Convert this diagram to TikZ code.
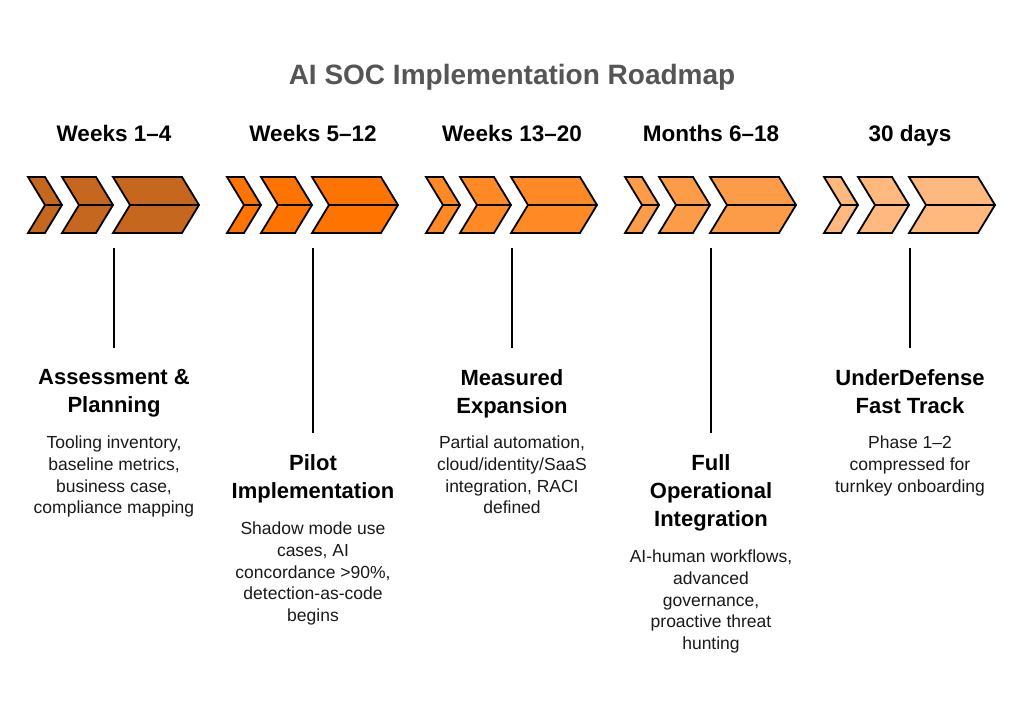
\documentclass[tikz,border=0pt]{standalone}
\usepackage{fontspec}
\setmainfont{Liberation Sans}
\definecolor{cA}{HTML}{C5671F}
\definecolor{cB}{HTML}{FF7300}
\definecolor{cC}{HTML}{FF8A25}
\definecolor{cD}{HTML}{FD9C48}
\definecolor{cE}{HTML}{FFB87D}
\definecolor{ttl}{HTML}{555555}
\tikzset{
  chev/.style={draw=black, line width=1.8pt, line join=miter},
  stem/.style={draw=black, line width=1.6pt},
  hdr/.style={anchor=base, inner sep=0pt, font=\fontsize{22.5}{26}\selectfont\bfseries},
  ttlbox/.style={anchor=north, inner sep=0pt, align=center, font=\fontsize{22}{28}\selectfont\bfseries},
  dsc/.style={anchor=north, inner sep=0pt, align=center, font=\fontsize{17.5}{21.6}\selectfont, text=black!90},
}
\newcommand{\chevgroup}[2]{%
  % #1 = x start, #2 = colour
  \begin{scope}[shift={(#1,0)}]
    \foreach \a/\b in {0/17, 34/34, 85/69} {
      \pgfmathsetmacro{\c}{\a+\b}
      \pgfmathsetmacro{\d}{\a+\b+17}
      \pgfmathsetmacro{\e}{\a+17}
      \filldraw[chev, fill=#2] (\a,177) -- (\c,177) -- (\d,205) -- (\c,233) -- (\a,233) -- (\e,205) -- cycle;
      \draw[chev] (\e,205) -- (\d,205);
    }
  \end{scope}}
\begin{document}
\begin{tikzpicture}[x=1pt, y=-1pt]
\useasboundingbox (0,0) rectangle (1024,711);
\node[anchor=base, inner sep=0pt, text=ttl, font=\fontsize{28}{32}\selectfont\bfseries] (title) at (512,85) {AI SOC Implementation Roadmap};

\chevgroup{28}{cA}
\chevgroup{227}{cB}
\chevgroup{426}{cC}
\chevgroup{625}{cD}
\chevgroup{824}{cE}

\node[hdr] (h1) at (114,142) {Weeks 1–4};
\node[hdr] (h2) at (313,142) {Weeks 5–12};
\node[hdr] (h3) at (512,142) {Weeks 13–20};
\node[hdr] (h4) at (711,142) {Months 6–18};
\node[hdr] (h5) at (910,142) {30 days};

\foreach \i/\x/\y in {1/114/348, 2/313/433, 3/512/348, 4/711/433, 5/910/348} {
  \coordinate (s\i) at (\x,248);
  \coordinate (e\i) at (\x,\y);
  \draw[stem] (s\i) -- (e\i);
}

\node[ttlbox] (t1) at (114,369) {Assessment \&\\Planning};
\node[dsc] (d1) at (114,436) {Tooling inventory,\\baseline metrics,\\business case,\\compliance mapping};

\node[ttlbox] (t2) at (313,454) {Pilot\\Implementation};
\node[dsc] (d2) at (313,522) {Shadow mode use\\cases, AI\\concordance >90\%,\\detection-as-code\\begins};

\node[ttlbox] (t3) at (512,369) {Measured\\Expansion};
\node[dsc] (d3) at (512,436) {Partial automation,\\cloud/identity/SaaS\\integration, RACI\\defined};

\node[ttlbox] (t4) at (711,454) {Full\\Operational\\Integration};
\node[dsc] (d4) at (711,550) {AI-human workflows,\\advanced\\governance,\\proactive threat\\hunting};

\node[ttlbox] (t5) at (910,369) {UnderDefense\\Fast Track};
\node[dsc] (d5) at (910,436) {Phase 1–2\\compressed for\\turnkey onboarding};
\end{tikzpicture}
\end{document}
